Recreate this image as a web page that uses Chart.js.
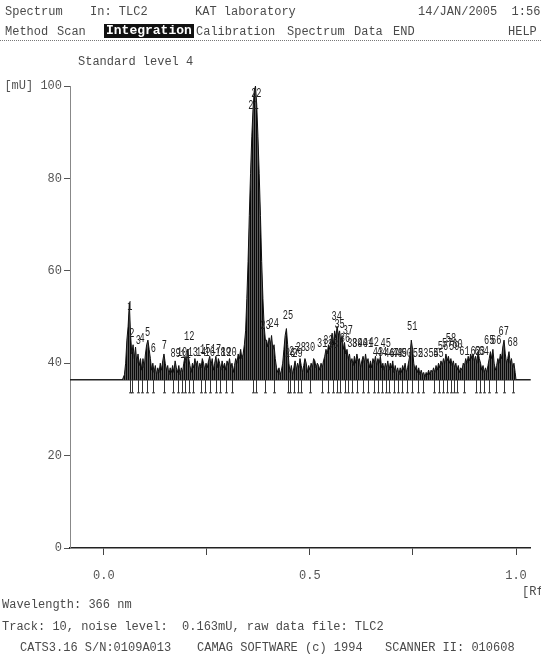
<!DOCTYPE html>
<html>
<head>
<meta charset="utf-8">
<script src="https://cdn.jsdelivr.net/npm/chart.js@4/dist/chart.umd.min.js"></script>
<style>
  body { margin: 0; background: #fff; }
  #wrap { position: relative; width: 541px; height: 657px; overflow: hidden; }
  #chart { position: absolute; left: 0; top: 0; }
  .t { position: absolute; font: 12px 'Liberation Mono', 'DejaVu Sans Mono', monospace; color: #4a4a4a; white-space: pre; line-height: 14px; }
  .hi { background: #111; color: #fff; font-weight: bold; font-size: 13px; padding: 0 2px; }
  #rule { position: absolute; left: 0; top: 40px; width: 541px; border-top: 1px dotted #777; }
</style>
</head>
<body>
<div id="wrap">
  <canvas id="chart" width="541" height="657"></canvas>
  <div class="t" style="left:5px;top:5px">Spectrum</div>
  <div class="t" style="left:90px;top:5px">In: TLC2</div>
  <div class="t" style="left:195px;top:5px">KAT laboratory</div>
  <div class="t" style="left:418px;top:5px">14/JAN/2005  1:56</div>
  <div class="t" style="left:5px;top:25px">Method</div>
  <div class="t" style="left:57px;top:25px">Scan</div>
  <div class="t hi" style="left:104px;top:24px">Integration</div>
  <div class="t" style="left:196px;top:25px">Calibration</div>
  <div class="t" style="left:287px;top:25px">Spectrum</div>
  <div class="t" style="left:354px;top:25px">Data</div>
  <div class="t" style="left:393px;top:25px">END</div>
  <div class="t" style="left:508px;top:25px">HELP</div>
  <div id="rule"></div>
  <div class="t" style="left:78px;top:55px">Standard level 4</div>
  <div class="t" style="left:522px;top:585px">[Rf]</div>
  <div class="t" style="left:2px;top:598px">Wavelength: 366 nm</div>
  <div class="t" style="left:2px;top:620px">Track: 10, noise level:  0.163mU, raw data file: TLC2</div>
  <div class="t" style="left:20px;top:641px">CATS3.16 S/N:0109A013</div>
  <div class="t" style="left:197px;top:641px">CAMAG SOFTWARE (c) 1994</div>
  <div class="t" style="left:385px;top:641px">SCANNER II: 010608</div>
</div>
<script>
// scan track: Rf positions and signal in mV
const rf = [
  0.045, 0.050, 0.053, 0.056, 0.059, 0.062, 0.065, 0.068, 0.071, 0.074,
  0.077, 0.080, 0.083, 0.086, 0.089, 0.092, 0.095, 0.098, 0.101, 0.104,
  0.107, 0.110, 0.113, 0.116, 0.119, 0.122, 0.125, 0.128, 0.131, 0.134,
  0.137, 0.140, 0.143, 0.146, 0.149, 0.152, 0.155, 0.158, 0.161, 0.164,
  0.167, 0.170, 0.173, 0.176, 0.179, 0.182, 0.185, 0.188, 0.191, 0.194,
  0.197, 0.200, 0.203, 0.206, 0.209, 0.212, 0.215, 0.218, 0.221, 0.224,
  0.227, 0.230, 0.233, 0.236, 0.239, 0.242, 0.245, 0.248, 0.251, 0.254,
  0.257, 0.260, 0.263, 0.266, 0.269, 0.272, 0.275, 0.278, 0.281, 0.284,
  0.287, 0.290, 0.293, 0.296, 0.299, 0.302, 0.305, 0.308, 0.311, 0.314,
  0.317, 0.320, 0.323, 0.326, 0.329, 0.332, 0.335, 0.338, 0.341, 0.344,
  0.347, 0.350, 0.353, 0.356, 0.359, 0.362, 0.365, 0.368, 0.371, 0.374,
  0.377, 0.380, 0.383, 0.386, 0.389, 0.392, 0.395, 0.398, 0.401, 0.404,
  0.407, 0.410, 0.413, 0.416, 0.419, 0.422, 0.425, 0.428, 0.431, 0.434,
  0.437, 0.440, 0.443, 0.446, 0.449, 0.452, 0.455, 0.458, 0.461, 0.464,
  0.467, 0.470, 0.473, 0.476, 0.479, 0.482, 0.485, 0.488, 0.491, 0.494,
  0.497, 0.500, 0.503, 0.506, 0.509, 0.512, 0.515, 0.518, 0.521, 0.524,
  0.527, 0.530, 0.533, 0.536, 0.539, 0.542, 0.545, 0.548, 0.551, 0.554,
  0.557, 0.560, 0.563, 0.566, 0.569, 0.572, 0.575, 0.578, 0.581, 0.584,
  0.587, 0.590, 0.593, 0.596, 0.599, 0.602, 0.605, 0.608, 0.611, 0.614,
  0.617, 0.620, 0.623, 0.626, 0.629, 0.632, 0.635, 0.638, 0.641, 0.644,
  0.647, 0.650, 0.653, 0.656, 0.659, 0.662, 0.665, 0.668, 0.671, 0.674,
  0.677, 0.680, 0.683, 0.686, 0.689, 0.692, 0.695, 0.698, 0.701, 0.704,
  0.707, 0.710, 0.713, 0.716, 0.719, 0.722, 0.725, 0.728, 0.731, 0.734,
  0.737, 0.740, 0.743, 0.746, 0.749, 0.752, 0.755, 0.758, 0.761, 0.764,
  0.767, 0.770, 0.773, 0.776, 0.779, 0.782, 0.785, 0.788, 0.791, 0.794,
  0.797, 0.800, 0.803, 0.806, 0.809, 0.812, 0.815, 0.818, 0.821, 0.824,
  0.827, 0.830, 0.833, 0.836, 0.839, 0.842, 0.845, 0.848, 0.851, 0.854,
  0.857, 0.860, 0.863, 0.866, 0.869, 0.872, 0.875, 0.878, 0.881, 0.884,
  0.887, 0.890, 0.893, 0.896, 0.899, 0.902, 0.905, 0.908, 0.911, 0.914,
  0.917, 0.920, 0.923, 0.926, 0.929, 0.932, 0.935, 0.938, 0.941, 0.944,
  0.947, 0.950, 0.953, 0.956, 0.959, 0.962, 0.965, 0.968, 0.971, 0.974,
  0.977, 0.980, 0.983, 0.986, 0.989, 0.992, 0.995, 0.998, 1.000
];
const mv = [
  36.4, 37.5, 40, 45, 48, 53, 46, 42, 44, 41,
  43.5, 40, 42, 39.5, 41, 38.5, 41, 39, 42, 44,
  45, 43, 41, 38.5, 40, 38, 39.5, 37.5, 39, 38,
  40, 38.5, 40.5, 42, 40, 38.5, 39.5, 37.5, 39, 38,
  39.5, 38, 40.5, 39, 38, 39.5, 37.5, 39, 38, 40,
  41.5, 40, 43, 41, 39.5, 38, 40, 39, 41, 39.5,
  40.5, 38.5, 40, 39, 41, 40, 38.5, 40, 39, 40.5,
  41.5, 39.5, 41, 38.5, 40, 41.5, 39, 41, 40, 38.5,
  40.5, 39, 40, 38.5, 40.5, 39.5, 41, 39, 40, 38,
  39.5, 41, 40, 42, 41, 43, 41, 42, 44, 47,
  54, 62, 72, 81, 89, 95, 99, 100, 96, 89,
  81, 72, 62, 54, 48, 45, 45, 43.5, 45.5, 44,
  46, 43, 44, 41, 39, 38, 39, 37.5, 38.5, 40,
  43, 46, 47.5, 44, 40, 38, 39.5, 37.5, 39, 40.5,
  38.5, 40, 39, 41, 39.5, 38, 39.5, 41, 40, 38,
  39.5, 38.5, 40, 39, 41, 40.5, 39, 40, 39.5, 38.5,
  40, 39, 40.5, 41.5, 43, 42, 44, 43, 45, 46.5,
  44, 47, 45.5, 48, 46, 47, 44.5, 46, 43, 44.5,
  42, 43, 41, 42, 40, 41, 39.5, 41.5, 40, 42,
  40.5, 41, 39, 40.5, 41.5, 40, 42, 40, 41, 39,
  40.5, 39, 41, 40, 41.5, 39.5, 41, 40, 41.5, 39,
  40, 38.5, 40, 39, 40.5, 38.5, 40, 39, 40.5, 38,
  39.5, 38, 39, 37.5, 39, 38, 39.5, 38.5, 40, 38,
  39, 40.5, 42, 45, 43, 40, 38.5, 39.5, 38, 39,
  37.5, 38.5, 37.5, 38, 37, 38, 37.5, 38.5, 37.5, 38.5,
  38, 39, 38, 39.5, 38.5, 40, 39, 40.5, 39.5, 41,
  40, 42, 40.5, 41.5, 40, 41, 39.5, 40.5, 39, 40,
  38.5, 39.5, 38, 39, 38.5, 40, 39.5, 41, 40, 41.5,
  40.5, 42, 41, 42, 40.5, 41.5, 40, 42.5, 41, 40,
  38.5, 39.5, 38, 39, 38, 39.5, 41, 42.5, 41, 43,
  40, 38.5, 39.5, 41, 40, 42, 41, 43.5, 45, 42,
  40, 41, 42.5, 40, 41, 39, 40, 38, 36.4
];
const baseline = 36.4;

// integrated peaks: number, Rf, height of the label foot (mV)
const peakNo = ['1','2','3','4','5','6','7','8','9','10','11','12','13','14','15','16','17','18','19','20',
  '21','22','23','24','25','26','27','28','29','30','31','32','33','34','35','36','37','38','39','40',
  '41','42','43','44','45','46','47','48','49','50','51','52','53','54','55','56','57','58','59','60',
  '61','62','63','64','65','66','67','68'];
const peakRf = [0.063, 0.068, 0.084, 0.093, 0.106, 0.120, 0.147, 0.168, 0.180, 0.190,
  0.198, 0.207, 0.216, 0.236, 0.246, 0.257, 0.272, 0.283, 0.296, 0.310,
  0.363, 0.370, 0.392, 0.412, 0.447, 0.452, 0.462, 0.478, 0.470, 0.500,
  0.530, 0.545, 0.556, 0.565, 0.572, 0.585, 0.592, 0.603, 0.615, 0.628,
  0.641, 0.655, 0.665, 0.675, 0.684, 0.693, 0.703, 0.713, 0.723, 0.735,
  0.748, 0.762, 0.775, 0.800, 0.812, 0.823, 0.833, 0.842, 0.850, 0.858,
  0.875, 0.902, 0.912, 0.922, 0.935, 0.952, 0.970, 0.992];
const peakLbl = [51, 45, 43.5, 44, 45.2, 41.8, 42.4, 40.7, 40.7, 41,
  40.5, 44.4, 41, 41, 41.5, 41, 41.5, 41, 41, 41,
  94.5, 97, 46.8, 47.2, 48.9, 40.7, 41.2, 42, 40.8, 42,
  43, 43.6, 42.6, 48.7, 47, 44, 45.6, 43, 43, 43,
  43, 43.2, 41, 41, 43, 40.7, 40.7, 40.7, 40.7, 40.7,
  46.5, 40.7, 40.7, 40.7, 40.7, 42.2, 43, 44, 42.2, 42.6,
  41.2, 41.2, 41.2, 41.2, 43.5, 43.5, 45.5, 43.2];

// axes
const xMin = -0.082, xMax = 1.036;
const xTickValues = [0, 0.25, 0.5, 0.75, 1];
const xTickLabels = ['0.0', '', '0.5', '', '1.0'];
const yTickValues = [0, 20, 40, 60, 80, 100];
const yTickLabels = ['0', '20', '40', '60', '80', '[mU] 100'];

// vertical hatching like the printer output
const pc = document.createElement('canvas');
pc.width = 2; pc.height = 2;
const pctx = pc.getContext('2d');
pctx.fillStyle = '#5a5a5a'; pctx.fillRect(0, 0, 2, 2);
pctx.fillStyle = '#0a0a0a'; pctx.fillRect(0, 0, 1, 2);
const hatch = pctx.createPattern(pc, 'repeat');

const peakMarks = {
  id: 'peakMarks',
  afterDatasetsDraw(chart) {
    const ctx = chart.ctx;
    const xs = chart.scales.x, ys = chart.scales.y;
    const yb = ys.getPixelForValue(baseline);
    ctx.save();
    ctx.strokeStyle = '#333';
    ctx.lineWidth = 1;
    peakRf.forEach(r => {
      const px = Math.round(xs.getPixelForValue(r)) + 0.5;
      ctx.beginPath();
      ctx.moveTo(px, yb);
      ctx.lineTo(px, yb + 13);
      ctx.moveTo(px - 1.5, yb + 13);
      ctx.lineTo(px + 1.5, yb + 13);
      ctx.stroke();
    });
    ctx.fillStyle = '#222';
    ctx.font = "12px 'Liberation Mono', monospace";
    ctx.textAlign = 'center';
    ctx.textBaseline = 'bottom';
    peakNo.forEach((n, i) => {
      const px = xs.getPixelForValue(peakRf[i]);
      const py = ys.getPixelForValue(peakLbl[i]);
      ctx.save();
      ctx.translate(px, py);
      ctx.scale(0.72, 1);
      ctx.fillText(n, 0, 0);
      ctx.restore();
    });
    ctx.restore();
  }
};

new Chart(document.getElementById('chart'), {
  type: 'line',
  data: {
    datasets: [{
      data: rf.map((r, i) => ({ x: r, y: mv[i] })),
      borderColor: '#111',
      borderWidth: 1,
      pointRadius: 0,
      tension: 0,
      fill: { value: baseline },
      backgroundColor: hatch
    }, {
      data: [{ x: xMin, y: baseline }, { x: xMax, y: baseline }],
      borderColor: '#222',
      borderWidth: 1.5,
      pointRadius: 0,
      fill: false
    }]
  },
  options: {
    responsive: false,
    animation: false,
    layout: { padding: { top: 86, bottom: 69, left: 0, right: 6 } },
    plugins: { legend: { display: false }, tooltip: { enabled: false } },
    scales: {
      x: {
        type: 'linear',
        min: xMin,
        max: xMax,
        afterBuildTicks: (s) => { s.ticks = xTickValues.map(v => ({ value: v })); },
        afterFit: (s) => { s.height = 40; },
        ticks: {
          autoSkip: false,
          maxRotation: 0,
          padding: 14,
          color: '#555',
          font: { family: "'Liberation Mono', monospace", size: 12 },
          callback: (v) => xTickLabels[xTickValues.indexOf(v)]
        },
        grid: { drawOnChartArea: false, drawTicks: true, tickLength: 7, color: '#444' },
        border: { display: true, color: '#222', width: 1.5 }
      },
      y: {
        min: 0,
        max: 100,
        afterBuildTicks: (s) => { s.ticks = yTickValues.map(v => ({ value: v })); },
        afterFit: (s) => { s.width = 70; },
        ticks: {
          autoSkip: false,
          padding: 2,
          color: '#555',
          font: { family: "'Liberation Mono', monospace", size: 12 },
          callback: (v) => yTickLabels[yTickValues.indexOf(v)]
        },
        grid: { drawOnChartArea: false, drawTicks: true, tickLength: 6, color: '#555' },
        border: { display: true, color: '#888', width: 1, dash: [2, 2] }
      }
    }
  },
  plugins: [peakMarks]
});
</script>
</body>
</html>
